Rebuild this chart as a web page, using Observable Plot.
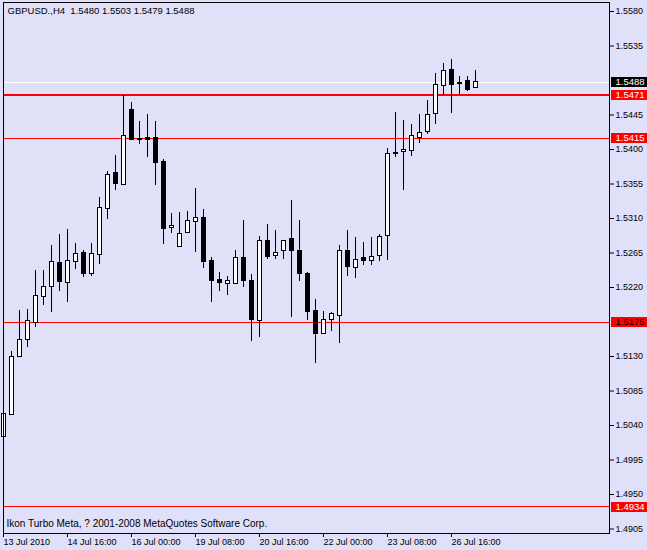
<!DOCTYPE html>
<html>
<head>
<meta charset="utf-8">
<script src="https://cdn.jsdelivr.net/npm/d3@7"></script>
<script src="https://cdn.jsdelivr.net/npm/@observablehq/plot@0.6"></script>
<style>
  html, body { margin: 0; padding: 0; background: #E0E0F8; }
  #chart { width: 647px; height: 550px; }
</style>
</head>
<body>
<div id="chart"></div>
<script>
// GBPUSD H4 candles (13 Jul 2010 08:00 .. 27 Jul 2010 04:00)
const open = [
  1.5025,1.5054,1.5130,1.5152,1.5174,1.5208,1.5221,1.5252,1.5226,1.5253,
  1.5265,1.5237,1.5263,1.5323,1.5369,1.5354,1.5452,1.5414,1.5415,1.5415,
  1.5384,1.5298,1.5273,1.5291,1.5306,1.5311,1.5255,1.5230,1.5224,1.5225,
  1.5259,1.5228,1.5176,1.5281,1.5261,1.5267,1.5283,1.5268,1.5238,1.5190,
  1.5160,1.5178,1.5183,1.5268,1.5246,1.5258,1.5255,1.5261,1.5287,1.5396,
  1.5397,1.5398,1.5415,1.5423,1.5446,1.5483,1.5504,1.5487,1.5489,1.5480];
const high = [
  1.5064,1.5137,1.5190,1.5191,1.5242,1.5242,1.5275,1.5289,1.5296,1.5277,
  1.5268,1.5277,1.5337,1.5371,1.5392,1.5471,1.5461,1.5437,1.5446,1.5437,
  1.5387,1.5317,1.5318,1.5319,1.5349,1.5322,1.5259,1.5240,1.5234,1.5268,
  1.5307,1.5237,1.5287,1.5302,1.5294,1.5281,1.5334,1.5307,1.5240,1.5204,
  1.5189,1.5188,1.5275,1.5294,1.5285,1.5279,1.5285,1.5289,1.5401,1.5448,
  1.5438,1.5433,1.5446,1.5464,1.5499,1.5512,1.5517,1.5495,1.5495,1.5503];
const low = [
  1.4962,1.5053,1.5129,1.5142,1.5168,1.5196,1.5187,1.5215,1.5201,1.5244,
  1.5233,1.5235,1.5250,1.5309,1.5346,1.5354,1.5412,1.5407,1.5389,1.5353,
  1.5276,1.5291,1.5273,1.5290,1.5266,1.5245,1.5200,1.5215,1.5210,1.5224,
  1.5220,1.5150,1.5155,1.5256,1.5257,1.5256,1.5181,1.5228,1.5177,1.5121,
  1.5160,1.5162,1.5147,1.5235,1.5232,1.5249,1.5249,1.5254,1.5255,1.5390,
  1.5346,1.5391,1.5408,1.5420,1.5433,1.5470,1.5447,1.5472,1.5476,1.5479];
const close = [
  1.5055,1.5130,1.5151,1.5176,1.5209,1.5221,1.5253,1.5227,1.5255,1.5264,
  1.5237,1.5264,1.5324,1.5367,1.5355,1.5417,1.5413,1.5413,1.5412,1.5382,
  1.5296,1.5300,1.5290,1.5307,1.5311,1.5253,1.5228,1.5226,1.5228,1.5258,
  1.5228,1.5177,1.5281,1.5260,1.5265,1.5281,1.5267,1.5237,1.5188,1.5160,
  1.5178,1.5185,1.5268,1.5247,1.5256,1.5255,1.5260,1.5286,1.5394,1.5394,
  1.5400,1.5418,1.5422,1.5445,1.5484,1.5503,1.5484,1.5485,1.5477,1.5488];

// horizontal levels
const levelValues = [1.5488, 1.5471, 1.5415, 1.5175, 1.4934];
const levelColors = ["#FFFFFF", "#FF0000", "#FF0000", "#FF0000", "#FF0000"];
const levelWidths = [1, 2, 1, 1, 1];
const labelBoxColors = ["#000000", "#FF0000", "#FF0000", "#FF0000", "#FF0000"];
const labelTextColors = ["#FFFFFF", "#FFFFFF", "#FFFFFF", "#000000", "#FFFFFF"];

// axes
const yTicks = [1.5580,1.5535,1.5445,1.5400,1.5355,1.5310,1.5265,1.5220,1.5130,1.5085,1.5040,1.4995,1.4950,1.4905];
const xTicks = [0, 8, 16, 24, 32, 40, 48, 56];
const xLabels = ["13 Jul 2010","14 Jul 16:00","16 Jul 00:00","19 Jul 08:00","20 Jul 16:00","22 Jul 00:00","23 Jul 08:00","26 Jul 16:00"];

const headerText = "GBPUSD.,H4  1.5480 1.5503 1.5479 1.5488";
const captionText = "Ikon Turbo Meta, ? 2001-2008 MetaQuotes Software Corp.";

const bars = open.map((o, i) => ({i, o, h: high[i], l: low[i], c: close[i], up: close[i] >= o}));
const levels = levelValues.map((v, k) => ({
  v, color: levelColors[k], w: levelWidths[k], box: labelBoxColors[k], txt: labelTextColors[k]
}));

const FONT = "'Liberation Sans', Arial, sans-serif";
const fmt = d3.format(".4f");
const crisp = "crispEdges";

const chart = Plot.plot({
  width: 647,
  height: 550,
  marginLeft: 3,
  marginRight: 38,
  marginTop: 2,
  marginBottom: 17,
  style: {background: "#E0E0F8", fontFamily: FONT, fontSize: "9px", color: "#000"},
  x: {type: "linear", domain: [0, 75.75]},
  y: {type: "linear", domain: [1.489916, 1.559174]},
  marks: [
    Plot.ruleY(levels, {y: "v", stroke: "color", strokeWidth: "w", shapeRendering: crisp}),
    Plot.ruleX(bars, {x: "i", y1: "l", y2: "h", stroke: "#000", shapeRendering: crisp}),
    Plot.rect(bars, {
      x1: d => d.i - 0.25, x2: d => d.i + 0.25, y1: "o", y2: "c",
      fill: d => d.up ? "#FFFFFF" : "#000000", stroke: "#000", strokeWidth: 1, shapeRendering: crisp
    }),
    Plot.frame({stroke: "#000", shapeRendering: crisp}),
    Plot.axisY({anchor: "right", ticks: yTicks, tickFormat: fmt, tickSize: 4, tickPadding: 2, label: null, fontSize: 9}),
    Plot.axisX({anchor: "bottom", ticks: xTicks, tickFormat: d => xLabels[xTicks.indexOf(d)], tickSize: 4, tickPadding: 1, textAnchor: "start", label: null, fontSize: 9}),
    Plot.ruleY(levels, {y: "v", x1: 76, x2: 80.5, stroke: "box", strokeWidth: 10, shapeRendering: crisp}),
    Plot.text(levels, {y: "v", x: 76.5, text: d => fmt(d.v), fill: "txt", textAnchor: "start", fontSize: 9.5}),
    Plot.text([headerText], {frameAnchor: "top-left", dx: 4, dy: 5, fill: "#000", fontSize: 9.5, textAnchor: "start"}),
    Plot.text([captionText], {frameAnchor: "bottom-left", dx: 3, dy: -7, fill: "#000", fontSize: 10, textAnchor: "start"})
  ]
});
document.getElementById("chart").appendChild(chart);
</script>
</body>
</html>
